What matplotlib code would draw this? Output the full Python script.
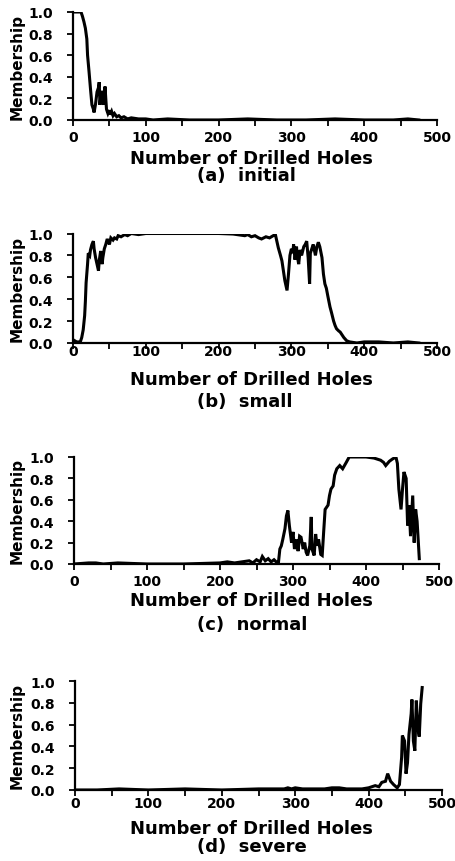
import matplotlib
matplotlib.use("Agg")
import matplotlib.pyplot as plt
from matplotlib.ticker import MultipleLocator, FixedLocator

plt.rcParams['font.family'] = ['DejaVu Sans']
plt.rcParams['font.weight'] = 'bold'

# ---------------- data ----------------
initial_x = [0, 5, 11, 13, 15, 17, 19, 20, 22, 24, 26, 28, 29, 31, 33, 35, 36, 37, 39, 41,
             42, 44, 45, 46, 48, 50, 51, 53, 55, 57, 60, 63, 66, 70, 75, 80, 90, 100, 110, 130,
             160, 200, 240, 280, 320, 360, 400, 440, 460, 475]
initial_y = [1.0, 1.0, 1.0, 0.96, 0.91, 0.85, 0.75, 0.6, 0.45, 0.29, 0.14, 0.1, 0.07, 0.15, 0.26, 0.3, 0.35, 0.14, 0.27, 0.2,
             0.14, 0.31, 0.2, 0.1, 0.06, 0.09, 0.05, 0.08, 0.04, 0.06, 0.03, 0.04, 0.02, 0.03, 0.01, 0.02, 0.01, 0.01, 0.0, 0.01,
             0.0, 0.0, 0.01, 0.0, 0.0, 0.01, 0.0, 0.0, 0.01, 0.0]

small_x = [0, 5, 10, 12, 14, 16, 17, 18, 20, 21, 23, 24, 26, 28, 29, 31, 33, 35, 36, 38,
           40, 41, 43, 45, 47, 50, 52, 55, 57, 60, 62, 66, 71, 75, 80, 90, 100, 120, 140, 160,
           180, 200, 220, 236, 240, 245, 250, 255, 259, 265, 270, 275, 278, 282, 285, 287, 289, 291, 294, 296,
           298, 300, 302, 303, 305, 307, 308, 310, 312, 314, 317, 319, 321, 323, 325, 326, 328, 330, 333, 335,
           337, 339, 342, 344, 346, 348, 350, 353, 355, 358, 360, 362, 365, 367, 370, 372, 376, 380, 390, 400,
           420, 440, 460, 475]
small_y = [0.03, 0.01, 0.01, 0.05, 0.12, 0.25, 0.38, 0.55, 0.72, 0.82, 0.8, 0.85, 0.9, 0.93, 0.86, 0.78, 0.72, 0.66, 0.75, 0.84,
           0.72, 0.78, 0.86, 0.9, 0.95, 0.9, 0.96, 0.94, 0.96, 0.95, 0.98, 0.97, 0.99, 0.98, 1.0, 0.99, 1.0, 1.0, 1.0, 1.0,
           1.0, 1.0, 0.995, 0.98, 0.99, 0.97, 0.98, 0.96, 0.95, 0.97, 0.96, 0.98, 0.99, 0.87, 0.8, 0.75, 0.66, 0.57, 0.48, 0.63,
           0.8, 0.86, 0.82, 0.9, 0.76, 0.88, 0.8, 0.72, 0.85, 0.8, 0.88, 0.9, 0.93, 0.78, 0.54, 0.82, 0.86, 0.9, 0.8, 0.88,
           0.92, 0.88, 0.78, 0.63, 0.54, 0.5, 0.43, 0.33, 0.28, 0.2, 0.16, 0.13, 0.11, 0.1, 0.07, 0.05, 0.02, 0.01, 0.0, 0.01,
           0.01, 0.0, 0.01, 0.0]

normal_x = [0, 20, 30, 40, 60, 100, 150, 200, 210, 220, 230, 240, 245, 250, 255, 258, 262, 266, 270, 274,
            277, 280, 282, 284, 286, 289, 291, 293, 295, 298, 300, 302, 305, 307, 309, 311, 314, 316, 318, 320,
            323, 325, 326, 329, 331, 333, 335, 338, 340, 342, 344, 348, 350, 352, 355, 357, 360, 364, 368, 373,
            377, 385, 393, 400, 411, 420, 424, 427, 432, 436, 441, 443, 445, 448, 450, 452, 455, 457, 459, 461,
            464, 466, 468, 470, 473]
normal_y = [0.0, 0.01, 0.01, 0.0, 0.01, 0.0, 0.0, 0.01, 0.02, 0.01, 0.02, 0.03, 0.01, 0.04, 0.02, 0.07, 0.03, 0.05, 0.02, 0.04,
            0.02, 0.01, 0.14, 0.17, 0.23, 0.33, 0.45, 0.5, 0.36, 0.2, 0.3, 0.14, 0.23, 0.12, 0.26, 0.25, 0.14, 0.2, 0.11, 0.08,
            0.17, 0.44, 0.14, 0.08, 0.28, 0.17, 0.23, 0.09, 0.08, 0.3, 0.51, 0.55, 0.64, 0.7, 0.73, 0.83, 0.89, 0.92, 0.89, 0.95,
            1.0, 1.0, 1.0, 1.0, 0.99, 0.97, 0.95, 0.92, 0.96, 0.98, 1.0, 0.94, 0.7, 0.51, 0.7, 0.86, 0.8, 0.36, 0.55, 0.26,
            0.64, 0.2, 0.51, 0.4, 0.05]

severe_x = [0, 30, 60, 100, 150, 200, 250, 285, 290, 295, 300, 310, 340, 350, 360, 370, 380, 391, 400, 409,
            414, 418, 423, 426, 430, 434, 439, 442, 445, 446, 449, 451, 453, 455, 458, 459, 461, 463, 465, 467,
            469, 471, 473]
severe_y = [0.0, 0.0, 0.01, 0.0, 0.01, 0.0, 0.01, 0.01, 0.02, 0.01, 0.02, 0.01, 0.01, 0.02, 0.02, 0.01, 0.01, 0.01, 0.02, 0.04,
            0.03, 0.07, 0.08, 0.15, 0.08, 0.05, 0.02, 0.05, 0.3, 0.5, 0.45, 0.15, 0.25, 0.51, 0.7, 0.83, 0.45, 0.36, 0.82, 0.57,
            0.49, 0.79, 0.94]

subtitles = ["(a)  initial", "(b)  small", "(c)  normal", "(d)  severe"]
series = [(initial_x, initial_y), (small_x, small_y), (normal_x, normal_y), (severe_x, severe_y)]
x_ticks = [0, 100, 200, 300, 400, 500]
y_ticks = [0.0, 0.2, 0.4, 0.6, 0.8, 1.0]
xlabel = "Number of Drilled Holes"
ylabel = "Membership"

# ---------------- layout (pixels) ----------------
W, H = 455, 862
fig = plt.figure(figsize=(W / 100, H / 100), dpi=100)

# left, top, right, bottom of each axes box
boxes = [(73, 13, 437, 121), (73, 234.5, 437, 344), (74, 458, 439, 565), (75, 682, 442, 791)]
xtick_pads = [3, -3, 3, 0]
xlabel_y = [159, 380, 601, 829]
subtitle_y = [176, 402, 625, 847]
subtitle_x = 197

def fx(px):
    return px / W

def fy(py):
    return 1 - py / H

for i, ((xs, ys), (l, t, r, b)) in enumerate(zip(series, boxes)):
    assert len(xs) == len(ys)
    ax = fig.add_axes([fx(l), fy(b), (r - l) / W, (b - t) / H])
    ax.plot(xs, ys, color='black', lw=2.2, solid_joinstyle='miter')
    ax.set_xlim(0, 500)
    ax.set_ylim(0, 1.0)
    for s in ['top', 'right']:
        ax.spines[s].set_visible(False)
    for s in ['left', 'bottom']:
        ax.spines[s].set_linewidth(1.6)
    ax.xaxis.set_major_locator(FixedLocator(x_ticks))
    ax.xaxis.set_minor_locator(MultipleLocator(50))
    ax.yaxis.set_major_locator(FixedLocator(y_ticks))
    ax.set_xticklabels([str(v) for v in x_ticks])
    ax.set_yticklabels([f"{v:.1f}" for v in y_ticks])
    ax.tick_params(axis='x', which='both', direction='out', length=4, width=1.3,
                   labelsize=10, pad=xtick_pads[i])
    ax.tick_params(axis='y', which='major', direction='out', length=4.5, width=1.3,
                   labelsize=10, pad=10)
    for lab in ax.get_xticklabels() + ax.get_yticklabels():
        lab.set_fontweight('bold')
    ax.patch.set_visible(False)

    fig.text(fx(17.5), fy((t + b) / 2), ylabel, rotation=90, ha='center', va='center',
             fontsize=11, fontweight='bold')
    fig.text(fx(251), fy(xlabel_y[i]), xlabel, ha='center', va='center',
             fontsize=13, fontweight='bold')
    fig.text(fx(subtitle_x), fy(subtitle_y[i]), subtitles[i], ha='left', va='center',
             fontsize=13, fontweight='bold')

fig.savefig("out.png", dpi=100, facecolor='white')
